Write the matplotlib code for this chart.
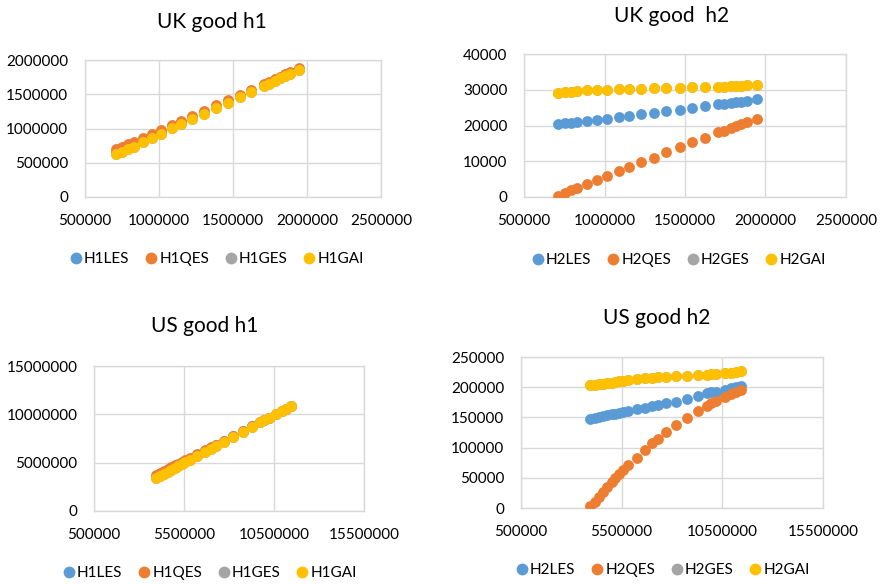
import matplotlib
matplotlib.use("Agg")
import matplotlib.pyplot as plt
from matplotlib.lines import Line2D

plt.rcParams['font.family'] = ['Lato', 'DejaVu Sans']

# ---- series colours (Office palette) ----
C_LES = "#5B9BD5"
C_QES = "#ED7D31"
C_GES = "#A5A5A5"
C_GAI = "#FFC000"
GRID = "#D9D9D9"

# ---- UK data ----
uk_x = [710000, 752000, 793000, 830000, 892000, 952000, 1016000, 1089000, 1151000,
        1224000, 1306000, 1385000, 1468000, 1544000, 1623000, 1708000, 1745000,
        1787000, 1818000, 1849000, 1884000, 1946000]

uk_h1_les = [660000, 698000, 736000, 770000, 834000, 895000, 954000, 1031000, 1090000,
             1161000, 1237000, 1318000, 1396000, 1472000, 1552000, 1635000, 1669000,
             1708000, 1743000, 1780000, 1812000, 1872000]
uk_h1_qes = [698000, 734000, 771000, 805000, 866000, 926000, 983000, 1058000, 1115000,
             1185000, 1260000, 1338000, 1415000, 1490000, 1568000, 1650000, 1683000,
             1722000, 1756000, 1792000, 1824000, 1884000]
uk_h1_ges = [625000, 662000, 700000, 735000, 802000, 865000, 925000, 1005000, 1065000,
             1138000, 1215000, 1298000, 1378000, 1455000, 1537000, 1620000, 1655000,
             1695000, 1730000, 1768000, 1800000, 1860000]
uk_h1_gai = [625000, 662000, 700000, 735000, 802000, 865000, 925000, 1005000, 1065000,
             1138000, 1215000, 1298000, 1378000, 1455000, 1537000, 1620000, 1655000,
             1695000, 1730000, 1768000, 1800000, 1860000]

uk_h2_les = [20300, 20600, 20700, 20900, 21300, 21500, 21800, 22300, 22700, 23100, 23600,
             24100, 24400, 24900, 25400, 25900, 26100, 26300, 26500, 26700, 26900, 27300]
uk_h2_qes = [300, 1100, 2000, 2600, 3700, 4800, 5900, 7300, 8400, 9800, 11000,
             12700, 13900, 15500, 16500, 18100, 18600, 19300, 19900, 20400, 20900, 21900]
uk_h2_ges = [29200, 29400, 29500, 29600, 29800, 29900, 30000, 30100, 30200, 30300, 30400,
             30500, 30600, 30700, 30800, 30800, 30900, 31000, 31000, 31100, 31200, 31400]
uk_h2_gai = [29200, 29400, 29500, 29600, 29800, 29900, 30000, 30100, 30200, 30300, 30400,
             30500, 30600, 30700, 30800, 30800, 30900, 31000, 31000, 31100, 31200, 31400]

# ---- US data ----
us_x = [3931000, 4178000, 4395000, 4592000, 4790000, 5005000, 5170000, 5384000, 5582000,
        5830000, 6242000, 6655000, 6985000, 7280000, 7700000, 8223000, 8750000, 9296000,
        9741000, 9955000, 10203000, 10614000, 10945000, 11160000, 11441000]

us_h1_les = [3560000, 3800000, 4010000, 4200000, 4390000, 4600000, 4760000, 4970000, 5160000,
             5400000, 5800000, 6200000, 6520000, 6800000, 7210000, 7720000, 8230000, 8760000,
             9190000, 9400000, 9640000, 10040000, 10365000, 10575000, 10850000]
us_h1_qes = [3716000, 3950000, 4155000, 4340000, 4526000, 4729000, 4882000, 5084000, 5270000,
             5506000, 5894000, 6283000, 6589000, 6871000, 7267000, 7765000, 8267000, 8787000,
             9218000, 9420000, 9655000, 10052000, 10370000, 10582000, 10850000]
us_h1_ges = [3416000, 3660000, 3875000, 4070000, 4266000, 4479000, 4642000, 4854000, 5050000,
             5296000, 5704000, 6113000, 6439000, 6731000, 7147000, 7665000, 8187000, 8727000,
             9168000, 9380000, 9625000, 10032000, 10360000, 10572000, 10850000]
us_h1_gai = [3416000, 3660000, 3875000, 4070000, 4266000, 4479000, 4642000, 4854000, 5050000,
             5296000, 5704000, 6113000, 6439000, 6731000, 7147000, 7665000, 8187000, 8727000,
             9168000, 9380000, 9625000, 10032000, 10360000, 10572000, 10850000]

us_h2_les = [148000, 149500, 151000, 152000, 153500, 155000, 156000, 157500, 158800,
             160500, 163100, 165900, 168100, 170500, 173900, 176300, 180200, 185100,
             190100, 191300, 192800, 195400, 198000, 199600, 201700]
us_h2_qes = [4000, 10200, 18100, 27100, 35000, 43500, 49700, 56500, 62100,
             70600, 83600, 96000, 107300, 114500, 126000, 136600, 149200, 160200,
             169600, 173400, 177800, 184400, 188800, 191600, 196000]
us_h2_ges = [203500, 204300, 205000, 205600, 206600, 207700, 208800, 210000, 211000,
             212000, 213200, 214900, 216000, 216500, 217600, 218200, 219300, 219800,
             221000, 222000, 222600, 223700, 224300, 225000, 226200]
us_h2_gai = [203500, 204300, 205000, 205600, 206600, 207700, 208800, 210000, 211000,
             212000, 213200, 214900, 216000, 216500, 217600, 218200, 219300, 219800,
             221000, 222000, 222600, 223700, 224300, 225000, 226200]

# ---- axis ticks ----
uk_xticks = [500000, 1000000, 1500000, 2000000, 2500000]
us_xticks = [500000, 5500000, 10500000, 15500000]
uk_h1_yticks = [0, 500000, 1000000, 1500000, 2000000]
uk_h2_yticks = [0, 10000, 20000, 30000, 40000]
us_h1_yticks = [0, 5000000, 10000000, 15000000]
us_h2_yticks = [0, 50000, 100000, 150000, 200000, 250000]

W, H = 884, 584
fig = plt.figure(figsize=(W / 100, H / 100), dpi=100)


def px_axes(left, top, right, bottom):
    return fig.add_axes([left / W, 1 - bottom / H, (right - left) / W, (bottom - top) / H])


def panel(box, title, title_xy, x, ys, names, xticks, yticks, legend_xy):
    ax = px_axes(*box)
    colors = [C_LES, C_QES, C_GES, C_GAI]
    for y, c in zip(ys, colors):
        ax.plot(x, y, linestyle="none", marker="o", markersize=7.8,
                markerfacecolor=c, markeredgecolor=c, markeredgewidth=0, zorder=3)
    ax.set_xlim(xticks[0], xticks[-1])
    ax.set_ylim(yticks[0], yticks[-1])
    ax.set_xticks(xticks)
    ax.set_yticks(yticks)
    ax.set_xticklabels([str(v) for v in xticks])
    ax.set_yticklabels([str(v) for v in yticks])
    ax.grid(True, color=GRID, linewidth=1.0, zorder=0)
    ax.set_axisbelow(True)
    for s in ax.spines.values():
        s.set_color(GRID)
        s.set_linewidth(1.0)
    ax.tick_params(length=0, labelsize=11, colors="black", pad=12)
    fig.text(title_xy[0] / W, 1 - title_xy[1] / H, title, ha="center", va="center",
             fontsize=15, color="black")
    handles = [Line2D([], [], linestyle="none", marker="o", markersize=8.5,
                      markerfacecolor=c, markeredgecolor=c, markeredgewidth=0)
               for c in colors]
    fig.legend(handles, names, loc="center",
               bbox_to_anchor=(legend_xy[0] / W, 1 - legend_xy[1] / H),
               ncol=4, frameon=False, fontsize=11, handletextpad=0.05,
               columnspacing=0.9, handlelength=1.0, borderpad=0)
    return ax


h1_names = ["H1LES", "H1QES", "H1GES", "H1GAI"]
h2_names = ["H2LES", "H2QES", "H2GES", "H2GAI"]

panel((85, 60, 381, 197), "UK good h1", (212, 22), uk_x,
      [uk_h1_les, uk_h1_qes, uk_h1_ges, uk_h1_gai], h1_names,
      uk_xticks, uk_h1_yticks, (216, 259))
panel((524, 54, 846, 197), "UK good  h2", (672, 16), uk_x,
      [uk_h2_les, uk_h2_qes, uk_h2_ges, uk_h2_gai], h2_names,
      uk_xticks, uk_h2_yticks, (678, 260))
panel((94, 366, 364, 511), "US good h1", (205, 326), us_x,
      [us_h1_les, us_h1_qes, us_h1_ges, us_h1_gai], h1_names,
      us_xticks, us_h1_yticks, (209, 573))
panel((521, 357, 823, 508), "US good h2", (657, 318), us_x,
      [us_h2_les, us_h2_qes, us_h2_ges, us_h2_gai], h2_names,
      us_xticks, us_h2_yticks, (662, 570))

fig.savefig("out.png", dpi=100, facecolor="white")
